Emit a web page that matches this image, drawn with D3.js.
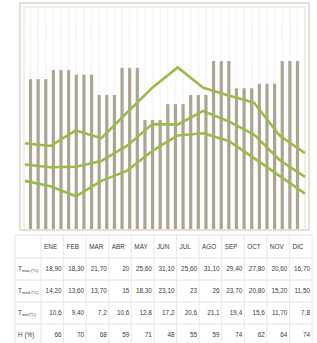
<!DOCTYPE html>
<html>
<head>
<meta charset="utf-8">
<script src="https://cdn.jsdelivr.net/npm/d3@7"></script>
<style>
  body { margin: 0; background: #fff; }
  text { font-family: "Liberation Sans Narrow", "Liberation Sans", sans-serif; fill: #3a3a3a; }
</style>
</head>
<body>
<div id="chart"></div>
<script>
let months = ['ENE', 'FEB', 'MAR', 'ABR', 'MAY', 'JUN', 'JUL', 'AGO', 'SEP', 'OCT', 'NOV', 'DIC'];
let humidity = [66, 70, 68, 59, 71, 48, 55, 59, 74, 62, 64, 74];
let tmax = [18.9, 18.3, 21.7, 20, 25.6, 31.1, 35.6, 31.1, 29.4, 27.8, 20.6, 16.7];
let tmed = [14.2, 13.6, 13.7, 15, 18.3, 23.1, 23, 26, 23.7, 20.8, 15.2, 11.5];
let tmin = [10.6, 9.4, 7.2, 10.6, 12.8, 17.2, 20.6, 21.1, 19.4, 15.6, 11.7, 7.8];

// table text, as printed
let rowTmax = ['18,90', '18,30', '21,70', '20', '25,60', '31,10', '25,60', '31,10', '29,40', '27,80', '20,60', '16,70'];
let rowTmed = ['14,20', '13,60', '13,70', '15', '18,30', '23,10', '23', '26', '23,70', '20,80', '15,20', '11,50'];
let rowTmin = ['10,6', '9,40', '7,2', '10,6', '12,8', '17,2', '20,6', '21,1', '19,4', '15,6', '11,70', '7,8'];
let rowH = ['66', '70', '68', '59', '71', '48', '55', '59', '74', '62', '64', '74'];

let W = 317, H = 343;
let svg = d3.select('#chart').append('svg')
    .attr('width', W)
    .attr('height', H);

let plot = {left: 20, top: 3, right: 309, bottom: 230};

// scales
let barIdx = d3.range(months.length * 3);
let xBar = d3.scaleBand()
    .domain(barIdx)
    .range([27, 301])
    .paddingInner(0.58)
    .paddingOuter(0.25);

let xLine = d3.scalePoint()
    .domain(months)
    .range([25, 305]);

let yH = d3.scaleLinear().domain([0, 100]).range([229, 2]);
let yT = d3.scaleLinear().domain([0, 50]).range([229, 2]);

// dotted background columns
svg.append('g').selectAll('line')
    .data(barIdx)
    .enter().append('line')
    .attr('x1', function(d) { return xBar(d) + xBar.bandwidth() / 2; })
    .attr('x2', function(d) { return xBar(d) + xBar.bandwidth() / 2; })
    .attr('y1', plot.top + 6)
    .attr('y2', plot.bottom - 2)
    .attr('stroke', '#ececec')
    .attr('stroke-width', 2)
    .attr('stroke-dasharray', '1,1.5');

// frame
svg.append('rect')
    .attr('x', plot.left).attr('y', plot.top)
    .attr('width', plot.right - plot.left).attr('height', plot.bottom - plot.top)
    .attr('fill', 'none').attr('stroke', '#d6d0c2').attr('stroke-width', 1.3);
svg.append('rect')
    .attr('x', plot.left + 4).attr('y', plot.top + 4)
    .attr('width', plot.right - plot.left - 8).attr('height', plot.bottom - plot.top - 4)
    .attr('fill', 'none').attr('stroke', '#e3ded2').attr('stroke-width', 1);

// humidity bars, three per month
svg.append('g').selectAll('rect')
    .data(barIdx)
    .enter().append('rect')
    .attr('x', function(d) { return xBar(d); })
    .attr('width', xBar.bandwidth())
    .attr('y', function(d) { return yH(humidity[Math.floor(d / 3)]); })
    .attr('height', function(d) { return yH(0) - yH(humidity[Math.floor(d / 3)]); })
    .attr('fill', '#aea493');

// temperature lines
let line = d3.line()
    .x(function(d, i) { return xLine(months[i]); })
    .y(function(d) { return yT(d); });

[tmax, tmed, tmin].forEach(function(s) {
    svg.append('path')
        .datum(s)
        .attr('d', line)
        .attr('fill', 'none')
        .attr('stroke', '#9cba4c')
        .attr('stroke-width', 2.6)
        .attr('stroke-linejoin', 'round');
});

// table
let tab = {left: 15, first: 41, right: 312};
let xCol = d3.scaleBand()
    .domain(months)
    .range([tab.first, tab.right]);
let rowY = [235, 258, 280, 302, 324, 346];

let tg = svg.append('g');
rowY.slice(0, 5).forEach(function(y) {
    tg.append('line')
        .attr('x1', tab.left).attr('x2', tab.right)
        .attr('y1', y).attr('y2', y)
        .attr('stroke', '#e2e2e2');
});
[tab.left, tab.first].concat(months.map(function(m) { return xCol(m) + xCol.bandwidth(); })).forEach(function(x) {
    tg.append('line')
        .attr('x1', x).attr('x2', x)
        .attr('y1', rowY[0]).attr('y2', H)
        .attr('stroke', '#e8e8e8');
});

let fs = 6.4;
tg.selectAll('text.head')
    .data(months)
    .enter().append('text')
    .attr('class', 'head')
    .attr('x', function(d) { return xCol(d) + 3; })
    .attr('y', (rowY[0] + rowY[1]) / 2)
    .attr('dy', '0.35em')
    .attr('font-size', fs)
    .text(function(d) { return d; });

let rows = [
    {label: ['T', 'max', ' (ºC)'], vals: rowTmax},
    {label: ['T', 'med', ' (ºC)'], vals: rowTmed},
    {label: ['T', 'min', '(ºC)'], vals: rowTmin},
    {label: ['H (%)', '', ''], vals: rowH}
];

rows.forEach(function(r, ri) {
    let cy = (rowY[ri + 1] + rowY[ri + 2]) / 2;
    let lab = tg.append('text')
        .attr('x', tab.left + 3)
        .attr('y', cy)
        .attr('dy', '0.35em')
        .attr('font-size', fs);
    lab.append('tspan').text(r.label[0]);
    if (r.label[1]) {
        lab.append('tspan').attr('font-size', 4.2).attr('dy', '0.25em').text(r.label[1] + r.label[2]);
    }
    tg.selectAll(null)
        .data(r.vals)
        .enter().append('text')
        .attr('x', function(d, i) { return xCol(months[i]) + xCol.bandwidth() - 2; })
        .attr('y', cy)
        .attr('dy', '0.35em')
        .attr('text-anchor', 'end')
        .attr('font-size', fs)
        .text(function(d) { return d; });
});
</script>
</body>
</html>
